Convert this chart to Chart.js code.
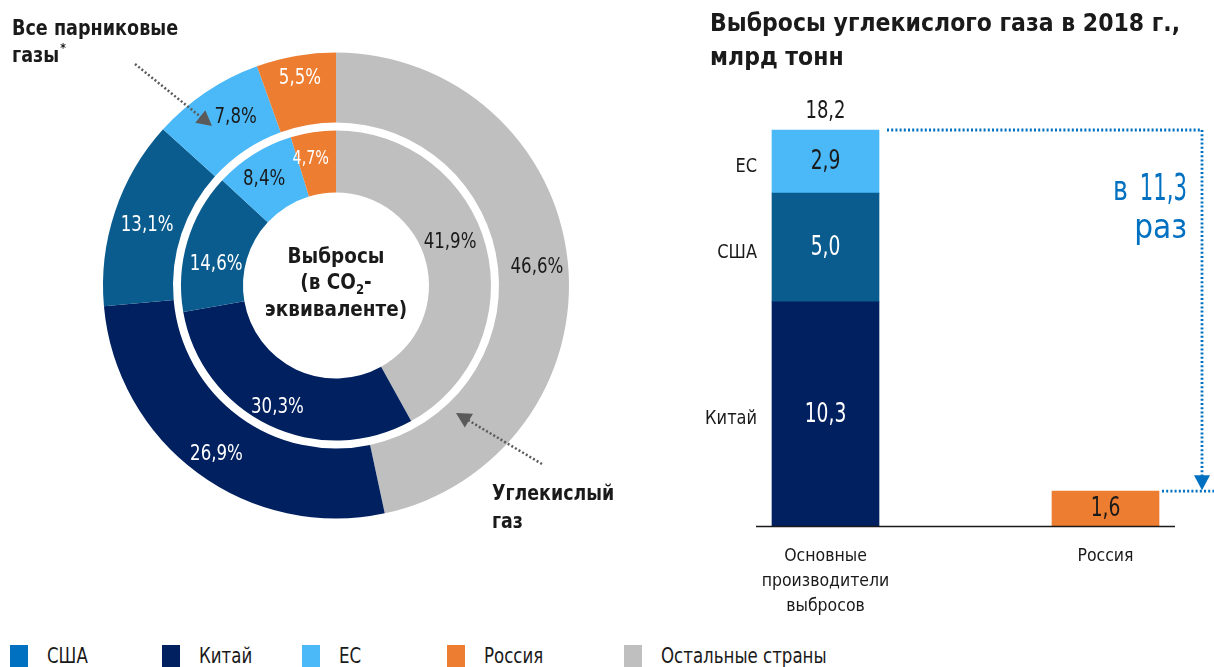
<!DOCTYPE html>
<html lang="ru">
<head>
<meta charset="utf-8">
<title>Выбросы парниковых газов и углекислого газа</title>
<script src="https://cdn.jsdelivr.net/npm/chart.js@4.4.1/dist/chart.umd.min.js"></script>
<style>
  html, body { margin: 0; padding: 0; background: #fff; width: 1214px; height: 667px; overflow: hidden; }
  #wrap { position: relative; width: 1214px; height: 667px; }
  canvas { position: absolute; top: 0; }
  #ringCanvas { left: 0; }
  #barCanvas { left: 700px; }
  #legend { position: absolute; left: 0; top: 645px; width: 1214px; height: 22px; }
  .lg-item { position: absolute; top: 0; height: 22px; display: flex; align-items: center; white-space: nowrap; color: #1a1a1a; }
  .lg-box { width: 18px; height: 22px; margin-right: 19px; flex: none; }
  .lg-text { display: inline-block; transform: scaleX(0.88); transform-origin: left center; }
</style>
</head>
<body>
<div id="wrap">
  <canvas id="ringCanvas" width="700" height="640"></canvas>
  <canvas id="barCanvas" width="514" height="640"></canvas>
  <div id="legend"></div>
</div>
<script>
// ---- Data ----
const ringCategories = ['Остальные страны', 'Китай', 'США', 'ЕС', 'Россия'];
const allGhgShares = [46.6, 26.9, 13.1, 7.8, 5.5];   // outer ring, % of all greenhouse gases
const co2Shares = [41.9, 30.3, 14.6, 8.4, 4.7];      // inner ring, % of CO2

const barCategories = [['Основные', 'производители', 'выбросов'], 'Россия'];
const chinaCo2 = [10.3, null];
const usaCo2 = [5.0, null];
const euCo2 = [2.9, null];
const russiaCo2 = [null, 1.6];
const majorTotal = 18.2;
const timesMore = 11.3;

const legendLabels = ['США', 'Китай', 'ЕС', 'Россия', 'Остальные страны'];

// ---- Styles ----
const COLORS = {
  other: '#bfbfbf', china: '#002060', usa: '#0a5c8e', eu: '#4bb8f8', russia: '#ed7d31',
  text: '#1a1a1a', accent: '#0070c0', pointer: '#5a5a5a'
};
const ringColors = [COLORS.other, COLORS.china, COLORS.usa, COLORS.eu, COLORS.russia];
const ringTextColors = [COLORS.text, '#fff', '#fff', COLORS.text, '#fff'];
// small hand offsets of the percentage labels away from the arc centroids
const ringLabelNudge = {
  0: [[4, 3], [-2, 9], [-1, 3], [10, -4], [-2, -12]],
  2: [[-6, -12], [-5, 10], [-1, 14], [-6, -1], [-7, -4]]
};
const legendColors = [COLORS.accent, COLORS.china, COLORS.eu, COLORS.russia, COLORS.other];
const legendX = [10, 162, 302, 447, 624];

// choose the narrowest installed sans family
function pickFont(candidates, fallback) {
  const c = document.createElement('canvas').getContext('2d');
  const sample = 'Выбросы углекислого газа 0123456789%';
  for (const f of candidates) {
    for (const base of ['monospace', 'serif']) {
      c.font = '20px ' + base;
      const w0 = c.measureText(sample).width;
      c.font = '20px "' + f + '", ' + base;
      const w1 = c.measureText(sample).width;
      if (Math.abs(w0 - w1) > 0.5) return '"' + f + '", sans-serif';
    }
  }
  return fallback;
}
const FONT = pickFont(['Liberation Sans Narrow', 'DejaVu Sans Condensed', 'Roboto Condensed'], 'Roboto, sans-serif');
Chart.defaults.font.family = FONT;
Chart.defaults.color = COLORS.text;

const fmt = v => v.toFixed(1).replace('.', ',');

// text squeezed horizontally by sx
function squeezed(ctx, str, x, y, align, sx) {
  ctx.save();
  ctx.translate(x, y);
  ctx.scale(sx, 1);
  ctx.textAlign = align;
  ctx.fillText(str, 0, 0);
  ctx.restore();
}
function dottedLine(ctx, x1, y1, x2, y2, color, width) {
  ctx.save();
  ctx.strokeStyle = color;
  ctx.lineWidth = width;
  ctx.setLineDash([2, 2.2]);
  ctx.beginPath();
  ctx.moveTo(x1, y1);
  ctx.lineTo(x2, y2);
  ctx.stroke();
  ctx.restore();
}
function arrowHead(ctx, tipX, tipY, fromX, fromY, len, half, color) {
  const a = Math.atan2(tipY - fromY, tipX - fromX);
  const bx = tipX - Math.cos(a) * len, by = tipY - Math.sin(a) * len;
  ctx.save();
  ctx.fillStyle = color;
  ctx.beginPath();
  ctx.moveTo(tipX, tipY);
  ctx.lineTo(bx - Math.sin(a) * half, by + Math.cos(a) * half);
  ctx.lineTo(bx + Math.sin(a) * half, by - Math.cos(a) * half);
  ctx.closePath();
  ctx.fill();
  ctx.restore();
}
function pointer(ctx, x1, y1, x2, y2) {
  const a = Math.atan2(y2 - y1, x2 - x1);
  dottedLine(ctx, x1, y1, x2 - Math.cos(a) * 12, y2 - Math.sin(a) * 12, COLORS.pointer, 2.5);
  arrowHead(ctx, x2, y2, x1, y1, 15, 8, COLORS.pointer);
}

// ---- Doughnut: labels, centre caption, headings ----
const ringLabels = {
  id: 'ringLabels',
  afterDatasetsDraw(chart) {
    const ctx = chart.ctx;
    ctx.save();
    ctx.textBaseline = 'middle';
    [0, 2].forEach(di => {
      const meta = chart.getDatasetMeta(di);
      const values = chart.data.datasets[di].data;
      meta.data.forEach((arc, i) => {
        const p = arc.tooltipPosition();
        const n = ringLabelNudge[di][i];
        const small = di === 2 && values[i] < 5;
        ctx.font = (small ? 19 : 22) + 'px ' + FONT;
        ctx.fillStyle = ringTextColors[i];
        squeezed(ctx, fmt(values[i]) + '%', p.x + n[0], p.y + n[1], 'center', 0.84);
      });
    });

    // centre caption
    const arc0 = chart.getDatasetMeta(0).data[0];
    const cx = arc0.x;
    const sq = 0.93;
    ctx.fillStyle = COLORS.text;
    ctx.textBaseline = 'alphabetic';
    ctx.font = 'bold 22px ' + FONT;
    squeezed(ctx, 'Выбросы', cx, 263, 'center', sq);
    // second line with subscript
    const l2a = '(в CO', l2b = '2', l2c = '-';
    const wa = ctx.measureText(l2a).width * sq, wc = ctx.measureText(l2c).width * sq;
    ctx.font = 'bold 14px ' + FONT;
    const wb = ctx.measureText(l2b).width * sq;
    const x = cx - (wa + wb + wc) / 2;
    ctx.font = 'bold 22px ' + FONT;
    squeezed(ctx, l2a, x, 289, 'left', sq);
    ctx.font = 'bold 14px ' + FONT;
    squeezed(ctx, l2b, x + wa, 294, 'left', sq);
    ctx.font = 'bold 22px ' + FONT;
    squeezed(ctx, l2c, x + wa + wb, 289, 'left', sq);
    squeezed(ctx, 'эквиваленте)', cx, 316, 'center', sq);

    // headings with pointers
    ctx.font = 'bold 22px ' + FONT;
    squeezed(ctx, 'Все парниковые', 12, 35, 'left', 0.89);
    squeezed(ctx, 'газы', 12, 62, 'left', 0.89);
    const wg = ctx.measureText('газы').width * 0.89;
    ctx.font = 'bold 12px ' + FONT;
    ctx.textAlign = 'left';
    ctx.fillText('*', 12 + wg + 1, 52);
    pointer(ctx, 135, 64, 212, 126);

    ctx.font = 'bold 22px ' + FONT;
    squeezed(ctx, 'Углекислый', 492, 500, 'left', 0.88);
    squeezed(ctx, 'газ', 492, 528, 'left', 0.88);
    pointer(ctx, 542, 464, 456, 413);
    ctx.restore();
  }
};

new Chart(document.getElementById('ringCanvas'), {
  type: 'doughnut',
  data: {
    labels: ringCategories,
    datasets: [
      { label: 'Все парниковые газы', data: allGhgShares, backgroundColor: ringColors, borderWidth: 0, weight: 70 },
      { label: '', data: [1], backgroundColor: 'rgba(255,255,255,0)', borderWidth: 0, weight: 8 },
      { label: 'Углекислый газ', data: co2Shares, backgroundColor: ringColors, borderWidth: 0, weight: 62 }
    ]
  },
  options: {
    responsive: false,
    animation: false,
    events: [],
    cutout: (93 / 233 * 100) + '%',
    layout: { padding: { left: 103, top: 52.5, right: 131, bottom: 121.5 } },
    plugins: { legend: { display: false }, tooltip: { enabled: false } }
  },
  plugins: [ringLabels]
});

// ---- Bar chart: values, side names, total, ratio bracket ----
const barValueColors = ['#fff', '#fff', COLORS.text, COLORS.text];
const barLabels = {
  id: 'barLabels',
  afterDatasetsDraw(chart) {
    const ctx = chart.ctx;
    ctx.save();
    // heading
    ctx.fillStyle = COLORS.text;
    ctx.textBaseline = 'alphabetic';
    ctx.font = 'bold 24px ' + FONT;
    squeezed(ctx, 'Выбросы углекислого газа в 2018 г.,', 10, 31, 'left', 1.02);
    squeezed(ctx, 'млрд тонн', 10, 65, 'left', 1.02);

    ctx.textBaseline = 'middle';
    let stackTop = null, stackRight = 0, stackX = 0;
    chart.data.datasets.forEach((ds, di) => {
      const meta = chart.getDatasetMeta(di);
      meta.data.forEach((bar, i) => {
        const v = ds.data[i];
        if (v == null) return;
        const cy = (bar.y + bar.base) / 2;
        ctx.font = '26px ' + FONT;
        ctx.fillStyle = barValueColors[di];
        squeezed(ctx, fmt(v), bar.x, cy + 1, 'center', 0.8);
        if (i === 0) {
          ctx.font = '20px ' + FONT;
          ctx.fillStyle = COLORS.text;
          squeezed(ctx, ds.label, bar.x - bar.width / 2 - 15, cy + 5, 'right', 0.9);
          if (stackTop === null || bar.y < stackTop) stackTop = bar.y;
          stackRight = bar.x + bar.width / 2;
          stackX = bar.x;
        }
      });
    });
    // stack total
    ctx.textBaseline = 'alphabetic';
    ctx.font = '25px ' + FONT;
    ctx.fillStyle = COLORS.text;
    squeezed(ctx, fmt(majorTotal), stackX, stackTop - 12, 'center', 0.8);

    // ratio bracket
    const rus = chart.getDatasetMeta(3).data[1];
    const rusRight = rus.x + rus.width / 2;
    const vx = rusRight + 43;
    dottedLine(ctx, stackRight + 8, stackTop, vx, stackTop, COLORS.accent, 2.8);
    dottedLine(ctx, vx, stackTop, vx, rus.y - 14, COLORS.accent, 2.8);
    arrowHead(ctx, vx, rus.y - 1, vx, stackTop, 15, 8, COLORS.accent);
    dottedLine(ctx, rusRight + 3, rus.y, chart.width, rus.y, COLORS.accent, 2.8);

    ctx.fillStyle = COLORS.accent;
    const tx = vx - 15;
    const num = fmt(timesMore);
    ctx.font = '38px ' + FONT;
    const wn = ctx.measureText(num).width * 0.62;
    squeezed(ctx, num, tx, stackTop + 70, 'right', 0.62);
    ctx.font = '33px ' + FONT;
    squeezed(ctx, 'в', tx - wn - 12, stackTop + 70, 'right', 0.85);
    squeezed(ctx, 'раз', tx, stackTop + 108, 'right', 1.0);

    // baseline
    const xs = chart.getDatasetMeta(0).data[0];
    ctx.strokeStyle = '#1a1a1a';
    ctx.lineWidth = 1.5;
    ctx.beginPath();
    ctx.moveTo(xs.x - xs.width / 2 - 16, chart.chartArea.bottom + 0.5);
    ctx.lineTo(rusRight + 16, chart.chartArea.bottom + 0.5);
    ctx.stroke();
    ctx.restore();
  }
};

new Chart(document.getElementById('barCanvas'), {
  type: 'bar',
  data: {
    labels: barCategories,
    datasets: [
      { label: 'Китай', data: chinaCo2, backgroundColor: COLORS.china },
      { label: 'США', data: usaCo2, backgroundColor: COLORS.usa },
      { label: 'ЕС', data: euCo2, backgroundColor: COLORS.eu },
      { label: 'Россия', data: russiaCo2, backgroundColor: COLORS.russia }
    ]
  },
  options: {
    responsive: false,
    animation: false,
    events: [],
    datasets: { bar: { barThickness: 107, borderWidth: 0, clip: false } },
    layout: { padding: { left: 125.5, right: 108.5, top: 130, bottom: 0 } },
    scales: {
      x: {
        stacked: true,
        offset: false,
        grid: { display: false, drawTicks: false },
        border: { display: false },
        ticks: { padding: 18, color: COLORS.text, font: { size: 17.5, lineHeight: 25 / 17.5 }, maxRotation: 0, autoSkip: false },
        afterFit(scale) { scale.height = 114; }
      },
      y: { stacked: true, display: false, min: 0, max: majorTotal }
    },
    plugins: { legend: { display: false }, tooltip: { enabled: false } }
  },
  plugins: [barLabels]
});

// ---- Legend ----
const legend = document.getElementById('legend');
legendLabels.forEach((name, i) => {
  const item = document.createElement('div');
  item.className = 'lg-item';
  item.style.left = legendX[i] + 'px';
  item.style.font = '21px ' + FONT;
  const box = document.createElement('span');
  box.className = 'lg-box';
  box.style.background = legendColors[i];
  const txt = document.createElement('span');
  txt.className = 'lg-text';
  txt.textContent = name;
  item.appendChild(box);
  item.appendChild(txt);
  legend.appendChild(item);
});
</script>
</body>
</html>
